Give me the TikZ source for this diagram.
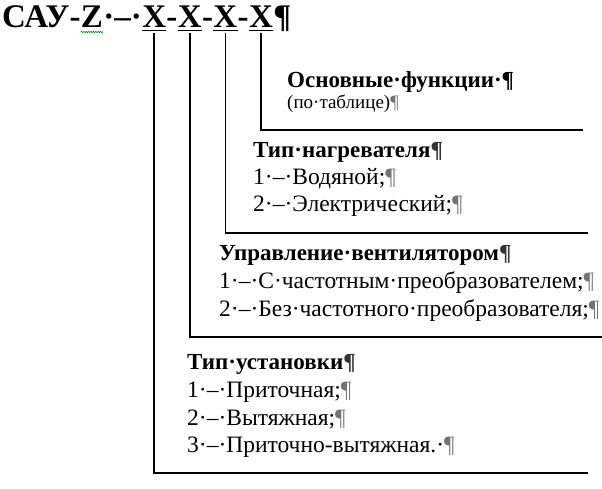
\documentclass[tikz,border=0pt]{standalone}
\usepackage{fontspec}
\setmainfont{Liberation Serif}
\usetikzlibrary{decorations.pathmorphing}
\newcommand{\mypil}{{\color{black!55}¶}}
\newcommand{\mypilh}{{\color{black!80}¶}}
\tikzset{
  ttl/.style={inner sep=0pt, anchor=base west, font=\fontsize{33}{38}\selectfont\bfseries},
  hd/.style={inner sep=0pt, anchor=base west, font=\fontsize{23}{27}\selectfont\bfseries},
  bd/.style={inner sep=0pt, anchor=base west, font=\fontsize{23.5}{27}\selectfont},
  sm/.style={inner sep=0pt, anchor=base west, font=\fontsize{19}{22}\selectfont},
  rule/.style={line width=1.8pt},
  uline/.style={line width=1.8pt},
  spell/.style={green!55!black, line width=0.6pt, decorate, decoration={snake, amplitude=0.7pt, segment length=2.4pt}}
}
\begin{document}
\begin{tikzpicture}[x=1pt,y=-1pt]
\useasboundingbox (0,0) rectangle (602,488);
% title
\node[ttl] (t0) at (2,27) {САУ-};
\node[ttl] (z)  at (t0.base east) {Z};
\node[ttl] (t1) at (z.base east) {·–·};
\node[ttl] (x1) at (t1.base east) {X};
\node[ttl] (h1) at (x1.base east) {-};
\node[ttl] (x2) at (h1.base east) {X};
\node[ttl] (h2) at (x2.base east) {-};
\node[ttl] (x3) at (h2.base east) {X};
\node[ttl] (h3) at (x3.base east) {-};
\node[ttl] (x4) at (h3.base east) {X};
\node[ttl] (pp) at (x4.base east) {¶};
\draw[spell] ([yshift=-5pt]z.base west) -- ([yshift=-5pt]z.base east);
\foreach \k in {1,2,3,4}{
  \draw[uline] ([yshift=-3.5pt]x\k.base west) -- ([yshift=-3.5pt]x\k.base east);
}
% end points of the brackets
\coordinate (e4) at (583,130);
\coordinate (e3) at (588,233);
\coordinate (e2) at (602,337);
\coordinate (e1) at (588,473);
\draw[rule] ([yshift=-6pt]x4.base) |- (e4);
\draw[rule] ([yshift=-6pt]x3.base) |- (e3);
\draw[rule] ([yshift=-6pt]x2.base) |- (e2);
\draw[rule] ([yshift=-6pt]x1.base) |- (e1);
% texts
\node[hd] (f1) at (287,87) {Основные·функции·¶};
\node[sm] (f2) at (287,108) {(по·таблице)\mypil};
\node[hd] (n0) at (253,157) {Тип·нагревателя\mypilh};
\node[bd] (n1) at (253,184) {1·–·Водяной;\mypil};
\node[bd] (n2) at (253,211) {2·–·Электрический;\mypil};
\node[hd] (v0) at (219,260) {Управление·вентилятором\mypilh};
\node[bd] (v1) at (219,288) {1·–·С·частотным·преобразователем;\mypil};
\node[bd] (v2) at (219,316) {2·–·Без·частотного·преобразователя;\mypil};
\node[hd] (u0) at (187,369) {Тип·установки\mypilh};
\node[bd] (u1) at (187,397) {1·–·Приточная;\mypil};
\node[bd] (u2) at (187,425) {2·–·Вытяжная;\mypil};
\node[bd] (u3) at (187,452) {3·–·Приточно-вытяжная.·\mypil};
\end{tikzpicture}
\end{document}
